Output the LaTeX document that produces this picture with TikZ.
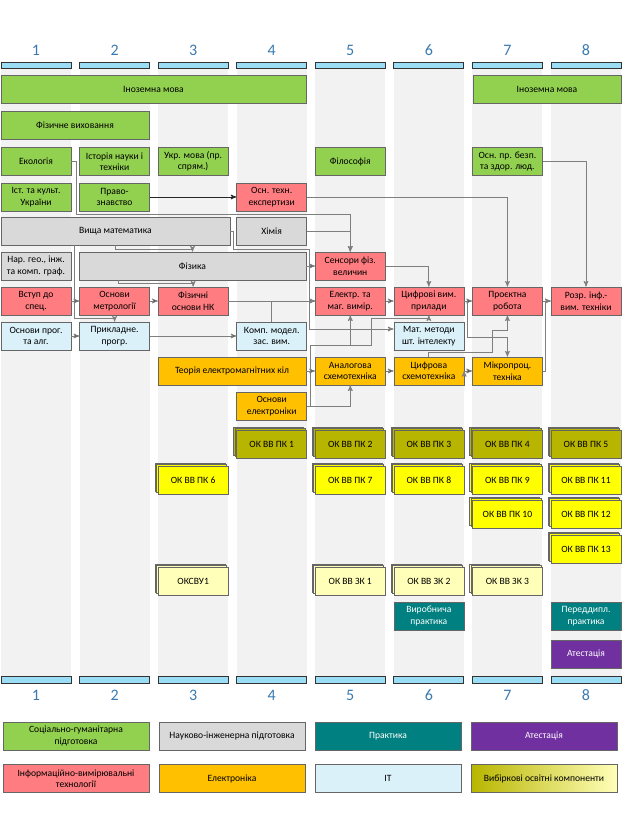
\documentclass[tikz,border=0pt]{standalone}
\usepackage{fontspec}
\setmainfont{Carlito}
\usepackage{tikz}
\usetikzlibrary{positioning}
\usetikzlibrary{arrows}
\usetikzlibrary{shadows}

\definecolor{socgreen}{HTML}{92D050}
\definecolor{naukgray}{HTML}{D9D9D9}
\definecolor{ivtred}{HTML}{FF7C80}
\definecolor{elekorange}{HTML}{FFC000}
\definecolor{itblue}{HTML}{DAF1FA}
\definecolor{prakteal}{HTML}{008080}
\definecolor{atestpurple}{HTML}{7030A0}
\definecolor{vvolive}{HTML}{B8B500}
\definecolor{vvyellow}{HTML}{FFFF00}
\definecolor{vvpale}{HTML}{FFFFB9}
\definecolor{barblue}{HTML}{9CDDF6}
\definecolor{numblue}{HTML}{3A7AB0}
\definecolor{stripegray}{HTML}{F2F2F2}
\definecolor{linegray}{HTML}{7F7F7F}

\newcommand{\colx}[1]{36+(#1-1)*78.57}

\tikzset{
  box/.style={draw=black!60, line width=0.5pt, minimum width=52.5pt, minimum height=21pt,
    inner sep=1pt, align=center, font=\fontsize{7.2}{8.6}\selectfont},
  w2/.style={minimum width=111pt},
  w3/.style={minimum width=171.75pt},
  w4/.style={minimum width=228.75pt},
  soc/.style={box, fill=socgreen},
  nauk/.style={box, fill=naukgray},
  ivt/.style={box, fill=ivtred},
  elek/.style={box, fill=elekorange},
  it/.style={box, fill=itblue},
  prak/.style={box, fill=prakteal, text=white},
  atest/.style={box, fill=atestpurple, text=white},
  stack/.style={copy shadow={shadow xshift=-2.2pt, shadow yshift=2.2pt, fill=#1, draw=black!60},
    copy shadow={shadow xshift=-1.1pt, shadow yshift=1.1pt, fill=#1, draw=black!60}},
  pk/.style={box, fill=vvolive, stack=vvolive},
  pkyel/.style={box, fill=vvyellow, stack=vvyellow},
  zk/.style={box, fill=vvpale, stack=vvpale},
  legbox/.style={minimum width=109.5pt},
  bar/.style={draw=black!80, fill=barblue, line width=0.6pt, minimum width=52.5pt,
    minimum height=5pt, inner sep=0pt},
  num/.style={text=numblue, font=\fontsize{12}{14}\selectfont},
  link/.style={draw=linegray, line width=0.6pt, ->, >=stealth'},
}

\begin{document}
\begin{tikzpicture}[x=0.75pt,y=-0.75pt]
  \useasboundingbox (0,0) rectangle (624,831);
  \fill[white] (0,0) rectangle (624,831);

  \foreach \i in {1,...,8} {
    \fill[stripegray] ({\colx{\i}-35},69) rectangle ({\colx{\i}+35},677);
    \node[num] (n\i) at ({\colx{\i}},50) {\i};
    \node[bar] (t\i) at ({\colx{\i}},65.5) {};
    \node[bar] (b\i) at ({\colx{\i}},680) {};
    \node[num] (m\i) at ({\colx{\i}},695) {\i};
  }

  \node[soc,w4] (inoz1)   at (153.5,89.5) {Іноземна мова};
  \node[soc,w2] (inoz2)   at (547,89.5)   {Іноземна мова};
  \node[soc,w2] (fizvyh)  at (75,125)     {Фізичне виховання};
  \node[soc]    (ekol)    at ({\colx{1}},161.5) {Екологія};
  \node[soc]    (istnt)   at ({\colx{2}},161.5) {Історія науки і\\техніки};
  \node[soc]    (ukrm)    at ({\colx{3}},161.5) {Укр. мова (пр.\\спрям.)};
  \node[soc]    (filos)   at ({\colx{5}},161.5) {Філософія};
  \node[soc]    (bezp)    at ({\colx{7}},161.5) {Осн. пр. безп.\\та здор. люд.};
  \node[soc]    (istukr)  at ({\colx{1}},197) {Іст. та культ.\\України};
  \node[soc]    (pravo)   at ({\colx{2}},197) {Право-\\знавство};
  \node[ivt]    (ekspert) at ({\colx{4}},197) {Осн. техн.\\експертизи};

  \node[nauk,w3] (vyshmat) at (115.5,231) {Вища математика};
  \node[nauk]    (khim)    at ({\colx{4}},231) {Хімія};
  \node[nauk]    (nargeo)  at ({\colx{1}},266) {Нар. гео., інж.\\та комп. граф.};
  \node[nauk,minimum width=170.25pt] (fizyka) at (192.5,266) {Фізика};
  \node[ivt]     (sensor)  at ({\colx{5}},266) {Сенсори фіз.\\величин};

  \node[ivt] (vstup)   at ({\colx{1}},301) {Вступ до\\спец.};
  \node[ivt] (metr)    at ({\colx{2}},301) {Основи\\метрології};
  \node[ivt] (fiznk)   at ({\colx{3}},301) {Фізичні\\основи НК};
  \node[ivt] (elektr)  at ({\colx{5}},301) {Електр. та\\маг. вимір.};
  \node[ivt] (cyfrvym) at ({\colx{6}},301) {Цифрові вим.\\прилади};
  \node[ivt] (proekt)  at ({\colx{7}},301) {Проєктна\\робота};
  \node[ivt] (rozr)    at ({\colx{8}},301) {Розр. інф.-\\вим. техніки};

  \node[it] (osnprog) at ({\colx{1}},336) {Основи прог.\\та алг.};
  \node[it] (prykl)   at ({\colx{2}},336) {Прикладне.\\прогр.};
  \node[it] (kompmod) at ({\colx{4}},336) {Комп. модел.\\зас. вим.};
  \node[it] (matmet)  at ({\colx{6}},336) {Мат. методи\\шт. інтелекту};

  \node[elek,w2] (teoria) at (232,371) {Теорія електромагнітних кіл};
  \node[elek] (analog) at ({\colx{5}},371) {Аналогова\\схемотехніка};
  \node[elek] (cyfrsx) at ({\colx{6}},371) {Цифрова\\схемотехніка};
  \node[elek] (mikro)  at ({\colx{7}},371) {Мікропроц.\\техніка};
  \node[elek] (osnel)  at ({\colx{4}},406) {Основи\\електроніки};

  \node[pk] (pk1) at ({\colx{4}},444) {ОК ВВ ПК 1};
  \node[pk] (pk2) at ({\colx{5}},444) {ОК ВВ ПК 2};
  \node[pk] (pk3) at ({\colx{6}},444) {ОК ВВ ПК 3};
  \node[pk] (pk4) at ({\colx{7}},444) {ОК ВВ ПК 4};
  \node[pk] (pk5) at ({\colx{8}},444) {ОК ВВ ПК 5};
  \node[pkyel] (pk6)  at ({\colx{3}},480) {ОК ВВ ПК 6};
  \node[pkyel] (pk7)  at ({\colx{5}},480) {ОК ВВ ПК 7};
  \node[pkyel] (pk8)  at ({\colx{6}},480) {ОК ВВ ПК 8};
  \node[pkyel] (pk9)  at ({\colx{7}},480) {ОК ВВ ПК 9};
  \node[pkyel] (pk11) at ({\colx{8}},480) {ОК ВВ ПК 11};
  \node[pkyel] (pk10) at ({\colx{7}},514) {ОК ВВ ПК 10};
  \node[pkyel] (pk12) at ({\colx{8}},514) {ОК ВВ ПК 12};
  \node[pkyel] (pk13) at ({\colx{8}},549) {ОК ВВ ПК 13};
  \node[zk] (oksvu) at ({\colx{3}},581) {ОКСВУ1};
  \node[zk] (zk1)   at ({\colx{5}},581) {ОК ВВ ЗК 1};
  \node[zk] (zk2)   at ({\colx{6}},581) {ОК ВВ ЗК 2};
  \node[zk] (zk3)   at ({\colx{7}},581) {ОК ВВ ЗК 3};
  \node[prak]  (vyrob)  at ({\colx{6}},616) {Виробнича\\практика};
  \node[prak]  (peredd) at ({\colx{8}},616) {Переддипл.\\практика};
  \node[atest] (atest)  at ({\colx{8}},654) {Атестація};

  \path[link] (pravo.east) edge[draw=black!85] (ekspert.west)
              (vstup.east) edge (metr.west)
              (metr.east) edge (fiznk.west)
              (osnprog.east) edge (prykl.west)
              (prykl.east) edge (kompmod.west)
              (fiznk.east) edge (elektr.west)
              (fizyka.east) edge (sensor.west)
              (elektr.east) edge (cyfrvym.west)
              (cyfrvym.east) edge (proekt.west)
              (proekt.east) edge (rozr.west)
              (teoria.east) edge (analog.west)
              (analog.east) edge (cyfrsx.west)
              (cyfrsx.east) edge (mikro.west);

  \draw[link] (ekol.east) -- ++(5,0) -- ++(0,52.5) -| (sensor.north);
  \draw[link] (khim.east) -| (sensor.north);
  \draw[link] (ekspert.east) -| (proekt.north);
  \draw[link] (bezp.east) -| (rozr.north);
  \draw[link] (vyshmat.south) -- ++(0,4) -| (fizyka.north);
  \draw[link] ([xshift=-31pt]vyshmat.south) -- ++(0,73) -| (prykl.north);
  \draw[link] ([xshift=-55.5pt]fizyka.south) -- ++(0,3) -| (fiznk.north);
  \draw[link] (vyshmat.east) -- ++(3,0) -- ++(0,18) -- ++(76,0) |- ([yshift=5.25pt]matmet.west);
  \draw[link] (kompmod.north) |- (elektr.west);
  \draw[link] (sensor.east) -| (cyfrvym.north);
  \draw[link] (mikro.east) -- ++(3,0) |- (rozr.west);
  \draw[link] (cyfrvym.east) -- ++(3,0) -- ++(0,36) -| (mikro.north);
  \draw[link] (cyfrsx.north) -- ++(0,-4) -- ++(64,0) -- ++(0,-22) -| (proekt.south);
  \draw[link] (osnel.east) -| (analog.south);
  \draw[link] (osnel.east) -- ++(3,0) -- ++(0,-61) -| (elektr.south);
  \draw[link] (osnel.east) -- ++(3,0) -- ++(0,-61) -- ++(61,0) -- ++(0,-27) -| (cyfrvym.south);

  \node[soc,legbox] (lsoc) at (76,736) {Соціально-гуманітарна\\підготовка};
  \node[nauk,legbox,right=7pt of lsoc] (lnauk) {Науково-інженерна підготовка};
  \node[prak,legbox,right=7pt of lnauk] (lprak) {Практика};
  \node[atest,legbox,right=7pt of lprak] (latest) {Атестація};
  \node[ivt,legbox,below=10.5pt of lsoc] (livt) {Інформаційно-вимірювальні\\технології};
  \node[elek,legbox,right=7pt of livt] (lelek) {Електроніка};
  \node[it,legbox,right=7pt of lelek] (lit) {ІТ};
  \node[box,legbox,left color=vvolive,middle color=vvyellow,right color=vvpale,right=7pt of lit] (lvv) {Вибіркові освітні компоненти};
\end{tikzpicture}
\end{document}
